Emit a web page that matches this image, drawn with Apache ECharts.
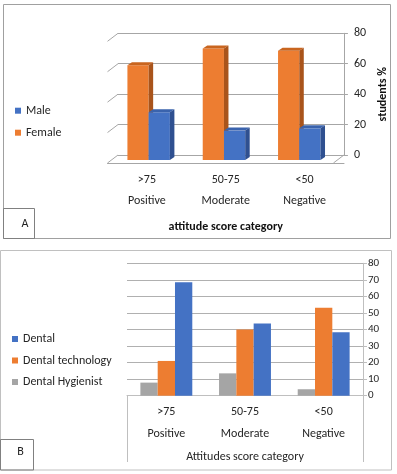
<!DOCTYPE html>
<html>
<head>
<meta charset="utf-8">
<script src="https://cdn.jsdelivr.net/npm/echarts@6/dist/echarts.min.js"></script>
<style>
html,body{margin:0;padding:0;background:#fff;}
#c{width:397px;height:474px;}
</style>
</head>
<body>
<div id="c"></div>
<script>
// ---- data ----
const categories = ['>75', '50-75', '<50'];
const categoryNames = ['Positive', 'Moderate', 'Negative'];
const maleA = [30, 18, 19.5];
const femaleA = [61, 72, 70.5];
const yTicksA = [0, 20, 40, 60, 80];
const dentalB = [68.5, 43.7, 38.3];
const dentalTechB = [21, 40, 53.2];
const hygienistB = [7.9, 13.5, 3.9];

const FONT = 'Carlito, Lato, sans-serif';
const TXT = '#262626';
const GRID = '#a6a6a6';

const chart = echarts.init(document.getElementById('c'), null, {renderer: 'canvas'});

// depth geometry for panel A (pixels)
const DEPTH = [-10.5, 8];       // back wall -> front floor
const FRONT = [-7, 5];          // back wall -> bar front face
const BARD = [4.5, -3];         // bar depth (front -> back)

function bar3d(isLeft, colors) {
  return function (params, api) {
    const ci = api.value(0), v = api.value(1);
    const top = api.coord([ci, v]);
    const base = api.coord([ci, 0]);
    const band = api.size([1, 0])[0];
    const w = band * 0.282;
    const L = top[0] + FRONT[0] - (isLeft ? w : 0);
    const ft = top[1] - BARD[1];
    const fb = base[1] + FRONT[1];
    return {
      type: 'group',
      children: [
        {type: 'rect', shape: {x: L, y: ft, width: w, height: fb - ft}, style: {fill: colors[0]}},
        {type: 'polygon', shape: {points: [[L, ft], [L + w, ft], [L + w + BARD[0], ft + BARD[1]], [L + BARD[0], ft + BARD[1]]]}, style: {fill: colors[1]}},
        {type: 'polygon', shape: {points: [[L + w, ft], [L + w + BARD[0], ft + BARD[1]], [L + w + BARD[0], fb + BARD[1]], [L + w, fb]]}, style: {fill: colors[2]}}
      ]
    };
  };
}

function slants(params, api) {
  const cs = params.coordSys;
  const p = api.coord([0, api.value(1)]);
  const ls = {stroke: GRID, lineWidth: 1};
  const children = [
    {type: 'line', shape: {x1: cs.x, y1: p[1], x2: cs.x + DEPTH[0], y2: p[1] + DEPTH[1]}, style: ls}
  ];
  if (api.value(1) === 0) {
    children.push({type: 'line', shape: {x1: cs.x + cs.width, y1: p[1], x2: cs.x + cs.width + DEPTH[0], y2: p[1] + DEPTH[1]}, style: ls});
  }
  return {type: 'group', children};
}

const catLabel = {
  fontFamily: FONT, fontSize: 12, color: TXT, lineHeight: 21.5, margin: 6,
  formatter: (v, i) => v + '\n' + categoryNames[i]
};

const option = {
  animation: false,
  textStyle: {fontFamily: FONT},
  grid: [
    {left: 118, right: 397 - 354.5, top: 33.3, bottom: 474 - 155},   // A back wall
    {left: 107.5, right: 397 - 344, top: 60, bottom: 474 - 163},     // A floor front
    {left: 127, right: 397 - 363, top: 263.3, bottom: 474 - 395.7}   // B
  ],
  xAxis: [
    {gridIndex: 0, type: 'category', data: categories, show: false},
    {gridIndex: 1, type: 'category', data: categories,
      axisLine: {lineStyle: {color: GRID}},
      axisTick: {length: 45, lineStyle: {color: '#bfbfbf'}},
      axisLabel: catLabel,
      name: 'attitude score category', nameLocation: 'middle', nameGap: 58,
      nameTextStyle: {fontFamily: FONT, fontSize: 12, fontWeight: 'bold', color: '#111'}},
    {gridIndex: 2, type: 'category', data: categories,
      axisLine: {lineStyle: {color: '#bfbfbf'}},
      axisTick: {length: 46, lineStyle: {color: '#bfbfbf'}},
      axisLabel: catLabel,
      name: 'Attitudes score category', nameLocation: 'middle', nameGap: 55,
      nameTextStyle: {fontFamily: FONT, fontSize: 12, color: TXT}}
  ],
  yAxis: [
    {gridIndex: 0, type: 'value', position: 'right', min: 0, max: 80, interval: 20,
      axisLine: {show: true, lineStyle: {color: GRID}},
      axisTick: {show: true, length: 4, lineStyle: {color: GRID}},
      axisLabel: {margin: 10, fontFamily: FONT, fontSize: 12, color: TXT},
      splitLine: {lineStyle: {color: GRID}},
      name: 'students %', nameLocation: 'middle', nameRotate: 90, nameGap: 26,
      nameTextStyle: {fontFamily: FONT, fontSize: 12, fontWeight: 'bold', color: '#111'}},
    {gridIndex: 1, type: 'value', show: false, min: 0, max: 80},
    {gridIndex: 2, type: 'value', position: 'right', min: 0, max: 80, interval: 10,
      axisLine: {show: true, lineStyle: {color: '#bfbfbf'}},
      axisTick: {show: true, length: 4, lineStyle: {color: '#bfbfbf'}},
      axisLabel: {margin: 5, fontFamily: FONT, fontSize: 11, color: TXT},
      splitLine: {lineStyle: {color: '#b0b0b0'}}}
  ],
  legend: [
    {orient: 'vertical', left: 15, top: 103.7, padding: 0, itemWidth: 6, itemHeight: 6, itemGap: 8, icon: 'rect',
      data: ['Male', 'Female'],
      textStyle: {fontFamily: FONT, fontSize: 12, color: TXT, lineHeight: 14}},
    {orient: 'vertical', left: 12, top: 332, padding: 0, itemWidth: 6, itemHeight: 6, itemGap: 7.5, icon: 'rect',
      data: ['Dental', 'Dental technology', 'Dental Hygienist'],
      textStyle: {fontFamily: FONT, fontSize: 12, color: TXT, lineHeight: 14}}
  ],
  series: [
    {type: 'custom', name: 'gridslant', xAxisIndex: 0, yAxisIndex: 0, z: 1, silent: true,
      data: yTicksA.map(v => [0, v]), renderItem: slants},
    {type: 'custom', name: 'Female', xAxisIndex: 0, yAxisIndex: 0, z: 3,
      itemStyle: {color: '#ED7D31'},
      data: femaleA.map((v, i) => [i, v]), encode: {x: 0, y: 1},
      renderItem: bar3d(true, ['#ED7D31', '#c9651f', '#a9541b'])},
    {type: 'custom', name: 'Male', xAxisIndex: 0, yAxisIndex: 0, z: 4,
      itemStyle: {color: '#4472C4'},
      data: maleA.map((v, i) => [i, v]), encode: {x: 0, y: 1},
      renderItem: bar3d(false, ['#4472C4', '#3a63ad', '#2f5090'])},
    {type: 'bar', name: 'Dental Hygienist', xAxisIndex: 2, yAxisIndex: 2,
      itemStyle: {color: '#A5A5A5'}, barGap: '0%', barCategoryGap: '34%', data: hygienistB},
    {type: 'bar', name: 'Dental technology', xAxisIndex: 2, yAxisIndex: 2,
      itemStyle: {color: '#ED7D31'}, barGap: '0%', barCategoryGap: '34%', data: dentalTechB},
    {type: 'bar', name: 'Dental', xAxisIndex: 2, yAxisIndex: 2,
      itemStyle: {color: '#4472C4'}, barGap: '0%', barCategoryGap: '34%', data: dentalB}
  ],
  graphic: [
    {type: 'rect', shape: {x: 3.5, y: 4.5, width: 387, height: 234}, style: {fill: 'none', stroke: '#a0a0a0', lineWidth: 1}, z: -1},
    {type: 'rect', shape: {x: 3.5, y: 208.5, width: 31, height: 30}, style: {fill: 'none', stroke: '#808080', lineWidth: 1}},
    {type: 'text', x: 25, y: 223.5, style: {text: 'A', fontFamily: FONT, fontSize: 12, fill: '#222', textAlign: 'center', textVerticalAlign: 'middle'}},
    {type: 'rect', shape: {x: 0.5, y: 250.5, width: 391, height: 219.5}, style: {fill: 'none', stroke: '#c0c0c0', lineWidth: 1}, z: -1},
    {type: 'rect', shape: {x: 0.5, y: 439.5, width: 33, height: 30.5}, style: {fill: 'none', stroke: '#808080', lineWidth: 1}},
    {type: 'text', x: 20.5, y: 452, style: {text: 'B', fontFamily: FONT, fontSize: 12, fill: '#222', textAlign: 'center', textVerticalAlign: 'middle'}},
    {type: 'line', shape: {x1: 127.5, y1: 396, x2: 127.5, y2: 462}, style: {stroke: '#bfbfbf', lineWidth: 1}},
    {type: 'line', shape: {x1: 363.5, y1: 396, x2: 363.5, y2: 462}, style: {stroke: '#bfbfbf', lineWidth: 1}}
  ]
};
chart.setOption(option);
</script>
</body>
</html>
